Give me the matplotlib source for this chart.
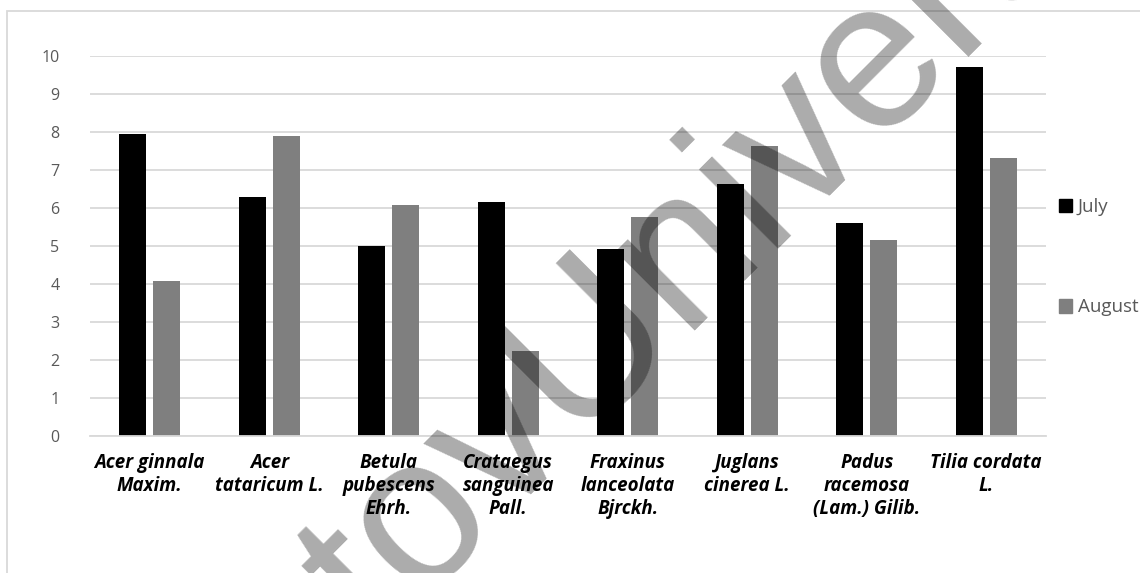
import matplotlib
matplotlib.use("Agg")
import matplotlib.pyplot as plt
import numpy as np
from matplotlib.patches import Rectangle, Patch

plt.rcParams['font.family'] = ['Open Sans', 'DejaVu Sans']

species = ["Acer ginnala\nMaxim.", "Acer\ntataricum L.", "Betula\npubescens\nEhrh.",
           "Crataegus\nsanguinea\nPall.", "Fraxinus\nlanceolata\nBjrckh.",
           "Juglans\ncinerea L.", "Padus\nracemosa\n(Lam.) Gilib.", "Tilia cordata\nL."]
july = [7.96, 6.29, 5.01, 6.15, 4.92, 6.64, 5.60, 9.71]
august = [4.08, 7.89, 6.08, 2.23, 5.77, 7.63, 5.16, 7.32]
yticks = list(range(0, 11))

fig = plt.figure(figsize=(11.4, 5.73), dpi=100)
ax = fig.add_axes([90/1140, 1-436/573, 956/1140, 380/573])

x = np.arange(len(species))
w = 0.226
off = 0.144
ax.bar(x - off, july, w, color='black', label='July', zorder=2)
ax.bar(x + off, august, w, color='#7f7f7f', label='August', zorder=2)

ax.set_xlim(-0.5, len(species) - 0.5)
ax.set_ylim(0, 10)
ax.set_yticks(yticks)
ax.grid(axis='y', color='#d9d9d9', lw=1.3, zorder=0)
ax.set_axisbelow(True)
for s in ['top', 'right', 'left']:
    ax.spines[s].set_visible(False)
ax.spines['bottom'].set_color('#d9d9d9')
ax.spines['bottom'].set_linewidth(1.3)
ax.tick_params(axis='y', length=0, pad=22, labelsize=11.5, labelcolor='#595959')
ax.tick_params(axis='x', length=0, pad=12)
ax.set_xticks(x)
ax.set_xticklabels(species, fontsize=13.5, fontweight='bold', fontstyle='italic',
                   linespacing=1.2, va='top')

handles = [Patch(color='black'), Patch(color='#7f7f7f')]
fig.legend(handles, ['July', 'August'], loc='upper left', bbox_to_anchor=(1059/1140, 1-198/573),
           frameon=False, fontsize=13.5, labelcolor='#595959', handlelength=0.7,
           handleheight=0.7, handletextpad=0.3, labelspacing=4.4, borderpad=0, borderaxespad=0)

# chart border
fig.add_artist(Rectangle((7/1140, -0.5), 2, 1.5 - 11/573, transform=fig.transFigure,
                         fill=False, edgecolor='#d9d9d9', lw=1.3))

# watermark
fig.text(378/1140, 1-645/573, "tovUniversity", family='Liberation Sans', fontsize=152,
         rotation=45, rotation_mode='anchor', ha='left', va='baseline',
         color='black', alpha=0.33, zorder=10)

fig.savefig('out.png', dpi=100)
